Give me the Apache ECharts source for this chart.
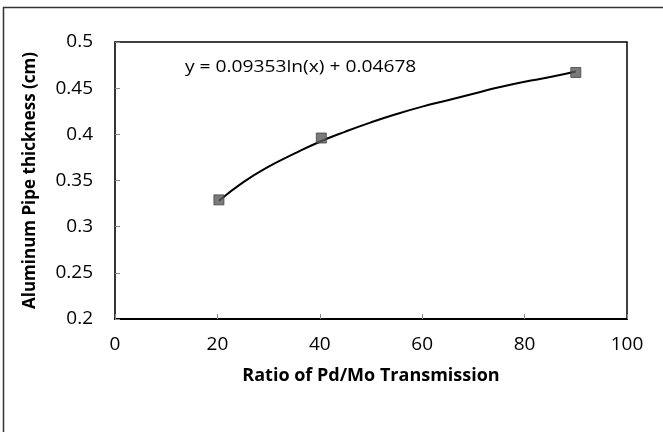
<!DOCTYPE html>
<html>
<head>
<meta charset="utf-8">
<script src="https://cdn.jsdelivr.net/npm/echarts@6/dist/echarts.min.js"></script>
<style>
html,body{margin:0;padding:0;background:#fff;}
#c{width:663px;height:432px;}
</style>
</head>
<body>
<div id="c"></div>
<script>
// Measured data points (Ratio of Pd/Mo Transmission, thickness cm)
var pointX = [20.3, 40.3, 90];
var pointY = [0.329, 0.396, 0.467];
// Trendline points
var trendX = [20.3, 25, 30, 35, 40, 45, 50, 55, 60, 65, 70, 75, 80, 85, 90];
var trendY = [0.328, 0.348, 0.365, 0.379, 0.392, 0.403, 0.413, 0.422, 0.430, 0.437, 0.444, 0.451, 0.457, 0.462, 0.468];
var equationText = 'y = 0.09353ln(x) + 0.04678';
var xTitle = 'Ratio of Pd/Mo Transmission';
var yTitle = 'Aluminum Pipe thickness (cm)';

var pts = pointX.map(function(x, i){ return [x, pointY[i]]; });
var trend = trendX.map(function(x, i){ return [x, trendY[i]]; });

var chart = echarts.init(document.getElementById('c'));
var font = '"Open Sans", sans-serif';
chart.setOption({
  animation: false,
  backgroundColor: '#fff',
  grid: { left: 115, right: 36, top: 42, bottom: 113, show: true, borderColor: '#000', borderWidth: 1.5, backgroundColor: 'transparent' },
  xAxis: {
    type: 'value', min: 0, max: 100, interval: 20,
    name: xTitle, nameLocation: 'middle', nameGap: 48,
    nameTextStyle: { fontFamily: font, fontWeight: 'bold', fontSize: 18, color: '#000' },
    axisLine: { show: true, lineStyle: { color: '#000', width: 2 } },
    axisTick: { show: true, inside: true, length: 5, lineStyle: { color: '#888', width: 1 } },
    axisLabel: { fontFamily: font, fontSize: 19, color: '#000', margin: 16 },
    splitLine: { show: false }
  },
  yAxis: {
    type: 'value', min: 0.2, max: 0.5, interval: 0.05,
    name: yTitle, nameLocation: 'middle', nameGap: 76, nameRotate: 90,
    nameTextStyle: { fontFamily: font, fontWeight: 'bold', fontSize: 17, color: '#000' },
    axisLine: { show: true, lineStyle: { color: '#333', width: 1.5 } },
    axisTick: { show: true, inside: true, length: 5, lineStyle: { color: '#888', width: 1 } },
    axisLabel: { fontFamily: font, fontSize: 19, color: '#000', margin: 22,
      formatter: function(v){ return String(+v.toFixed(2)); } },
    splitLine: { show: false }
  },
  series: [
    {
      type: 'line', data: trend, smooth: true, showSymbol: false, symbol: 'none',
      lineStyle: { color: '#000', width: 2 }, z: 2, silent: true
    },
    {
      type: 'scatter', data: pts, symbol: 'rect', symbolSize: 10,
      itemStyle: { color: '#5a5a5a', borderColor: '#444', borderWidth: 1 }, z: 3
    }
  ],
  graphic: [
    { type: 'text', x: 185, y: 59, scaleX: 1.2, style: { text: equationText, fontFamily: font, fontSize: 16, fill: '#000' } },
    { type: 'line', shape: { x1: 3, y1: 7.5, x2: 663, y2: 7.5 }, style: { stroke: '#333', lineWidth: 1.5 } },
    { type: 'line', shape: { x1: 3.5, y1: 7, x2: 3.5, y2: 432 }, style: { stroke: '#333', lineWidth: 1.5 } }
  ]
});
</script>
</body>
</html>
